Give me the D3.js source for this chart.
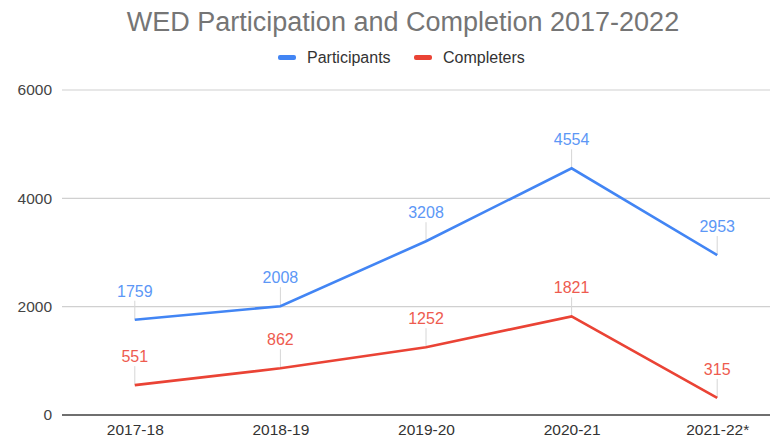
<!DOCTYPE html>
<html>
<head>
<meta charset="utf-8">
<script src="https://cdn.jsdelivr.net/npm/d3@7"></script>
<style>
  body { margin: 0; background: #fff; }
  text { font-family: Arial, "Liberation Sans", sans-serif; }
</style>
</head>
<body>
<svg id="chart"></svg>
<script>
// chart values
const years = ["2017-18", "2018-19", "2019-20", "2020-21", "2021-22*"];
const participants = [1759, 2008, 3208, 4554, 2953];
const completers = [551, 862, 1252, 1821, 315];
const yTicks = [0, 2000, 4000, 6000];

function main() {
    let width = 770, height = 438;
    let svg = d3.select("#chart")
        .attr("width", width)
        .attr("height", height);

    let x = d3.scalePoint()
        .domain(years)
        .range([62, 790])
        .padding(0.5);

    let y = d3.scaleLinear()
        .domain([0, 6000])
        .range([415, 90]);

    // gridlines
    svg.append("g")
        .selectAll("line")
        .data(yTicks.filter(d => d > 0))
        .join("line")
        .attr("x1", 62)
        .attr("x2", width)
        .attr("y1", d => y(d))
        .attr("y2", d => y(d))
        .attr("stroke", "#d0d0d0")
        .attr("stroke-width", 1.2);

    // y axis labels
    let yAxis = svg.append("g")
        .attr("transform", "translate(62,0)")
        .call(d3.axisLeft(y).tickValues(yTicks).tickSize(0).tickPadding(10).tickFormat(d3.format("d")));
    yAxis.select(".domain").remove();
    yAxis.selectAll("text")
        .attr("fill", "#444")
        .attr("font-size", "15.5px");

    // x axis labels
    let xAxis = svg.append("g")
        .attr("transform", "translate(0,415)")
        .call(d3.axisBottom(x).tickSize(0).tickPadding(9));
    xAxis.select(".domain").remove();
    xAxis.selectAll("text")
        .attr("fill", "#333")
        .attr("font-size", "15.5px");

    // baseline
    svg.append("line")
        .attr("x1", 62).attr("x2", width)
        .attr("y1", y(0)).attr("y2", y(0))
        .attr("stroke", "#6f6f6f")
        .attr("stroke-width", 2);

    let series = [
        { name: "Participants", values: participants, color: "#4285f4", label: "#5c97f6" },
        { name: "Completers", values: completers, color: "#ea4335", label: "#ee5b4f" }
    ];

    let line = d3.line()
        .x((d, i) => x(years[i]))
        .y(d => y(d));

    series.forEach(s => {
        // leader lines
        svg.append("g")
            .selectAll("line")
            .data(s.values)
            .join("line")
            .attr("x1", (d, i) => x(years[i]))
            .attr("x2", (d, i) => x(years[i]))
            .attr("y1", d => y(d) - 19)
            .attr("y2", d => y(d))
            .attr("stroke", "#d6d6d6")
            .attr("stroke-width", 1);

        svg.append("path")
            .datum(s.values)
            .attr("d", line)
            .attr("fill", "none")
            .attr("stroke", s.color)
            .attr("stroke-width", 2.6);

        svg.append("g")
            .selectAll("text")
            .data(s.values)
            .join("text")
            .attr("x", (d, i) => x(years[i]))
            .attr("y", d => y(d) - 23)
            .attr("text-anchor", "middle")
            .attr("font-size", "16px")
            .attr("fill", s.label)
            .text(d => d);
    });

    // title
    svg.append("text")
        .attr("x", 403)
        .attr("y", 31)
        .attr("text-anchor", "middle")
        .attr("font-size", "27px")
        .attr("fill", "#757575")
        .text("WED Participation and Completion 2017-2022");

    // legend
    let legend = svg.append("g");
    let lx = [278, 414];
    series.forEach((s, i) => {
        legend.append("rect")
            .attr("x", lx[i])
            .attr("y", 55)
            .attr("width", 18)
            .attr("height", 5)
            .attr("rx", 2)
            .attr("fill", s.color);
        legend.append("text")
            .attr("x", lx[i] + 29)
            .attr("y", 63)
            .attr("font-size", "16px")
            .attr("fill", "#333")
            .text(s.name);
    });
}

main();
</script>
</body>
</html>
